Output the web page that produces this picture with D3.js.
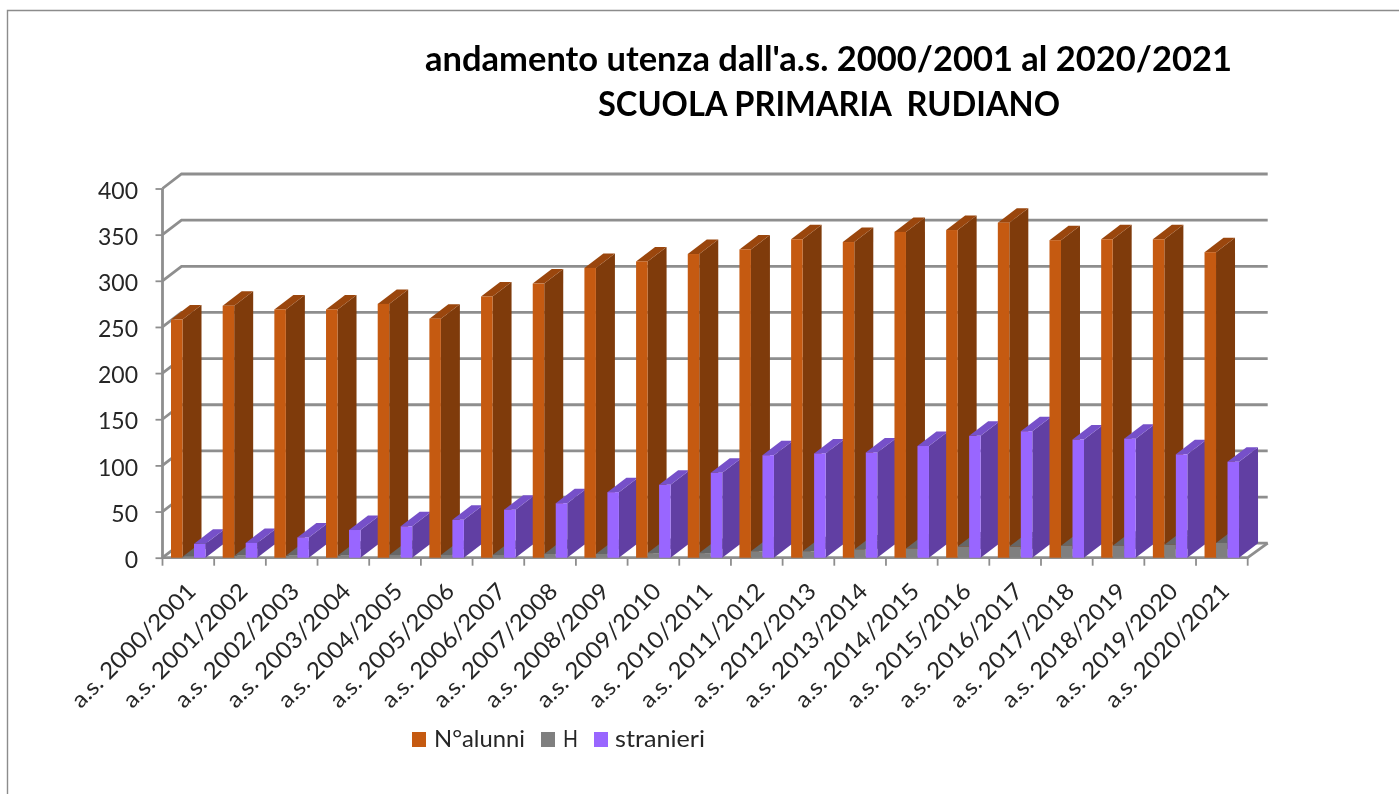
<!DOCTYPE html>
<html><head><meta charset="utf-8">
<script src="https://cdnjs.cloudflare.com/ajax/libs/d3/7.8.5/d3.min.js"></script>
<style>
html,body{margin:0;padding:0;background:#fff;overflow:hidden}
svg{display:block;filter:blur(0.4px)}
text{font-family:Lato,"Open Sans",sans-serif}
</style></head><body>
<svg id="c" width="1399" height="794"></svg>
<script>
const categories=["a.s. 2000/2001","a.s. 2001/2002","a.s. 2002/2003","a.s. 2003/2004","a.s. 2004/2005","a.s. 2005/2006","a.s. 2006/2007","a.s. 2007/2008","a.s. 2008/2009","a.s. 2009/2010","a.s. 2010/2011","a.s. 2011/2012","a.s. 2012/2013","a.s. 2013/2014","a.s. 2014/2015","a.s. 2015/2016","a.s. 2016/2017","a.s. 2017/2018","a.s. 2018/2019","a.s. 2019/2020","a.s. 2020/2021"];
const alunni=[258,273,269,269,275,259,283,297,314,321,329,334,345,342,353,355,363,344,345,345,331];
const handicap=[1,2,2,2,3,3,3,4,4,5,5,7,7,9,10,12,12,13,13,14,16];
const stranieri=[15,16,22,30,34,41,52,59,71,79,92,111,113,114,121,132,137,128,129,112,104];
const seriesNames=["N°alunni","H","stranieri"];
const seriesValues=[alunni,handicap,stranieri];
const frontColors=["#c55a11","#7f7f7f","#9966ff"];
const sideColors=["#7f3b0b","#555555","#613fa3"];
const topColors=["#9a460d","#666666","#7650c9"];
const yTicks=[0,50,100,150,200,250,300,350,400];
const titleLines=["andamento utenza dall'a.s. 2000/2001 al 2020/2021","SCUOLA PRIMARIA  RUDIANO"];

const svg=d3.select("#c");
const L=162.5,R=1247.7,B=557.7,T=188.5,DX=19,DY=14.5;
const gridColor="#8e8e8e",textColor="#262626";
const y=d3.scaleLinear().domain([0,400]).range([B,T]);
const x=d3.scaleBand().domain(categories).range([L,R]);
const inner=d3.scaleBand().domain(seriesNames).range([8.5,43]);

// outer border
svg.append("path").attr("d","M7.5,794V10.5H1399").attr("fill","none").attr("stroke","#8c8c8c").attr("stroke-width",1.4);

// title
titleLines.forEach((t,i)=>{
  svg.append("text").attr("x",[828.5,829][i]).attr("y",[71,116][i]).attr("text-anchor","middle")
    .attr("font-size",34).attr("font-weight",700).attr("fill","#000")
    .attr("textLength",[807,462][i]).attr("lengthAdjust","spacingAndGlyphs").attr("xml:space","preserve").text(t);
});

// walls: gridlines
const grid=svg.append("g").attr("fill","none").attr("stroke",gridColor).attr("stroke-width",2.8);
grid.selectAll("path").data(yTicks).join("path")
  .attr("d",v=>`M${L},${y(v)}L${L+DX},${y(v)-DY}H${R+DX+1}`);
grid.append("path").attr("d",`M${L},${T}V${B}H${R}L${R+DX+1},${B-DY}`);

// y axis
const yAxis=svg.append("g").attr("transform",`translate(${L},0)`)
  .call(d3.axisLeft(y).tickValues(yTicks).tickSize(7).tickPadding(17.5).tickFormat(d3.format("d")));
yAxis.select(".domain").remove();
yAxis.selectAll("line").attr("stroke",gridColor).attr("stroke-width",1.8);
yAxis.selectAll("text").attr("font-size",23).attr("fill",textColor).attr("font-family","Lato").attr("dy",".42em");

// x axis ticks at category boundaries
const bounds=categories.map(c=>x(c)).concat([R]);
svg.append("g").attr("stroke",gridColor).attr("stroke-width",1.8).selectAll("line").data(bounds).join("line")
  .attr("x1",d=>d).attr("x2",d=>d).attr("y1",B).attr("y2",B+8);
const xAxis=svg.append("g").attr("transform",`translate(0,${B})`)
  .call(d3.axisBottom(x).tickSize(0).tickPadding(0));
xAxis.select(".domain").remove();
xAxis.selectAll("text").attr("font-size",23).attr("fill",textColor).attr("font-family","Lato")
  .attr("text-anchor","end").attr("dy",0).attr("y",0)
  .attr("textLength",165).attr("lengthAdjust","spacingAndGlyphs")
  .attr("transform","translate(9,35) rotate(-45)");

// bars, painted left to right
const bars=svg.append("g");
categories.forEach((c,ci)=>{
  seriesNames.forEach((s,si)=>{
    const v=seriesValues[si][ci];
    const x0=x(c)+inner(s),w=inner.bandwidth(),x1=x0+w,yt=y(v);
    const g=bars.append("g");
    g.append("path").attr("fill",sideColors[si])
      .attr("d",`M${x1},${B}L${x1+DX},${B-DY}V${yt-DY}L${x1},${yt}Z`);
    g.append("path").attr("fill",topColors[si])
      .attr("d",`M${x0},${yt}L${x0+DX},${yt-DY}H${x1+DX}L${x1},${yt}Z`);
    g.append("rect").attr("x",x0).attr("y",yt).attr("width",w).attr("height",B-yt).attr("fill",frontColors[si]);
  });
});

// legend
const legX=[412,541,594],legT=[434,563,615],legW=[91,15,90];
seriesNames.forEach((s,i)=>{
  svg.append("rect").attr("x",legX[i]).attr("y",732).attr("width",14).attr("height",15).attr("fill",frontColors[i]);
  svg.append("text").attr("x",legT[i]).attr("y",747).attr("font-size",24).attr("fill",textColor)
    .attr("textLength",legW[i]).attr("lengthAdjust","spacingAndGlyphs").text(s);
});
</script></body></html>
